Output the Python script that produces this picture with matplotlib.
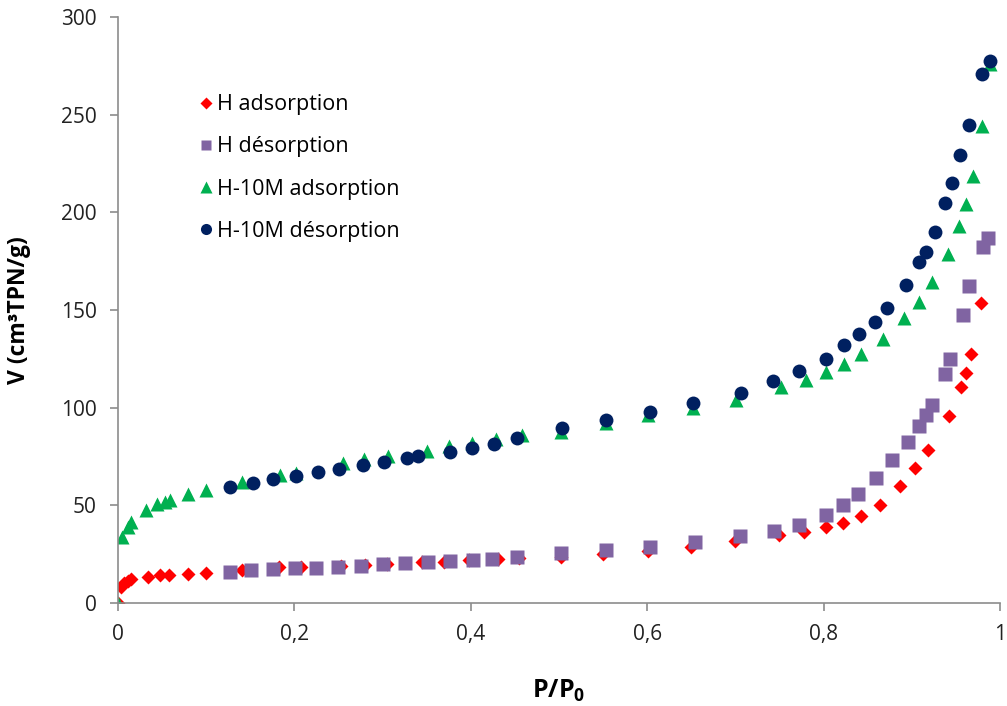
import matplotlib
matplotlib.use("Agg")
import matplotlib.pyplot as plt

plt.rcParams['font.family'] = ['Open Sans', 'DejaVu Sans']
plt.rcParams['mathtext.fontset'] = 'custom'
plt.rcParams['mathtext.rm'] = 'Open Sans'
plt.rcParams['mathtext.bf'] = 'Open Sans:bold'

# --- data ---
h_ads_x = [0, 0.004, 0.007, 0.012, 0.015, 0.034, 0.048, 0.058, 0.080, 0.100,
           0.141, 0.183, 0.208, 0.253, 0.280, 0.305, 0.345, 0.370, 0.398, 0.431,
           0.455, 0.502, 0.550, 0.601, 0.650, 0.700, 0.750, 0.778, 0.803, 0.822,
           0.842, 0.864, 0.887, 0.904, 0.919, 0.942, 0.956, 0.961, 0.967, 0.978]
h_ads_y = [0, 8.3, 10.0, 11.3, 12.3, 13.2, 14.3, 14.2, 15.0, 15.2,
           16.6, 18.3, 18.5, 19.1, 19.5, 20.0, 20.8, 21.2, 21.8, 22.4,
           23.2, 23.7, 25.1, 26.8, 28.8, 31.6, 34.7, 36.4, 38.9, 41.1,
           44.5, 50.3, 59.7, 69.3, 78.5, 95.6, 110.6, 117.8, 127.2, 153.8]

h_des_x = [0.127, 0.151, 0.176, 0.201, 0.225, 0.250, 0.276, 0.301, 0.325, 0.352,
           0.377, 0.403, 0.424, 0.453, 0.502, 0.553, 0.603, 0.654, 0.705, 0.744,
           0.772, 0.803, 0.822, 0.839, 0.859, 0.878, 0.896, 0.908, 0.916, 0.923,
           0.938, 0.943, 0.958, 0.965, 0.981, 0.987]
h_des_y = [16.0, 16.9, 17.3, 17.8, 17.8, 18.6, 19.1, 19.8, 20.3, 20.8,
           21.5, 22.0, 22.5, 23.4, 25.4, 27.1, 28.8, 31.2, 34.2, 37.0,
           39.9, 45.2, 50.0, 56.0, 64.0, 73.4, 82.6, 90.5, 96.3, 101.4,
           117.3, 124.8, 147.5, 162.1, 182.1, 186.7]

m_ads_x = [0, 0.005, 0.011, 0.015, 0.032, 0.044, 0.053, 0.059, 0.080, 0.100,
           0.141, 0.184, 0.202, 0.255, 0.279, 0.306, 0.351, 0.375, 0.401, 0.429,
           0.458, 0.502, 0.553, 0.601, 0.652, 0.701, 0.752, 0.780, 0.803, 0.823,
           0.842, 0.867, 0.891, 0.908, 0.923, 0.941, 0.954, 0.961, 0.969, 0.980,
           0.989]
m_ads_y = [0, 34.0, 39.0, 41.6, 47.6, 50.5, 51.9, 52.7, 55.8, 57.9,
           62.1, 65.5, 66.6, 71.5, 73.7, 75.3, 78.0, 80.4, 81.8, 83.8,
           85.9, 87.7, 92.0, 96.0, 100.0, 104.0, 110.4, 114.2, 118.1, 122.2,
           127.5, 135.0, 145.8, 154.3, 164.2, 178.4, 193.0, 204.3, 218.6, 244.2,
           276.0]

m_des_x = [0.127, 0.153, 0.176, 0.202, 0.227, 0.251, 0.278, 0.302, 0.328, 0.340,
           0.377, 0.402, 0.427, 0.452, 0.504, 0.553, 0.603, 0.652, 0.706, 0.743,
           0.772, 0.803, 0.823, 0.840, 0.858, 0.872, 0.894, 0.908, 0.916, 0.926,
           0.938, 0.946, 0.955, 0.965, 0.980, 0.989]
m_des_y = [59.2, 61.6, 63.3, 65.0, 66.9, 68.6, 70.7, 72.4, 74.1, 75.3,
           77.5, 79.2, 81.6, 84.3, 89.6, 93.7, 97.8, 102.2, 107.7, 113.7,
           118.9, 125.1, 131.8, 137.5, 143.9, 150.8, 163.0, 174.3, 179.6, 190.1,
           204.7, 215.2, 229.2, 244.9, 270.6, 277.7]

x_ticks = [0, 0.2, 0.4, 0.6, 0.8, 1]
x_tick_labels = ['0', '0,2', '0,4', '0,6', '0,8', '1']
y_ticks = [0, 50, 100, 150, 200, 250, 300]

# --- figure ---
fig = plt.figure(figsize=(10.07, 7.06), dpi=100)
ax = fig.add_axes([0.117, 0.146, 0.876, 0.830])

ax.plot(h_ads_x, h_ads_y, 'D', color='#FF0000', ms=7.5, mec='none', label='H adsorption')
ax.plot(h_des_x, h_des_y, 's', color='#8064A2', ms=9.5, mec='none', label='H désorption')
ax.plot(m_ads_x, m_ads_y, '^', color='#00B050', ms=10.5, mec='none', label='H-10M adsorption')
ax.plot(m_des_x, m_des_y, 'o', color='#002060', ms=10, mec='none', label='H-10M désorption')

ax.set_xlim(0, 1)
ax.set_ylim(0, 300)
ax.set_xticks(x_ticks)
ax.set_xticklabels(x_tick_labels)
ax.set_yticks(y_ticks)

for side in ['top', 'right']:
    ax.spines[side].set_visible(False)
for side in ['left', 'bottom']:
    ax.spines[side].set_color('#8c8c8c')
    ax.spines[side].set_linewidth(1.2)
ax.tick_params(direction='out', length=6, width=1.2, color='#8c8c8c',
               labelsize=15, labelcolor='#222222', pad=9)

ax.set_ylabel('V (cm³TPN/g)', fontsize=16.5, fontweight='bold')
ax.yaxis.set_label_coords(-0.098, 0.5)
ax.set_xlabel(r'$\mathbf{P/P_0}$', fontsize=18, labelpad=24)

ax.legend(loc='upper left', bbox_to_anchor=(0.066, 0.901), frameon=False,
          fontsize=15.5, labelspacing=0.98, handletextpad=0.0, handlelength=1.0,
          markerscale=0.8)

fig.savefig('out.png', dpi=100)
